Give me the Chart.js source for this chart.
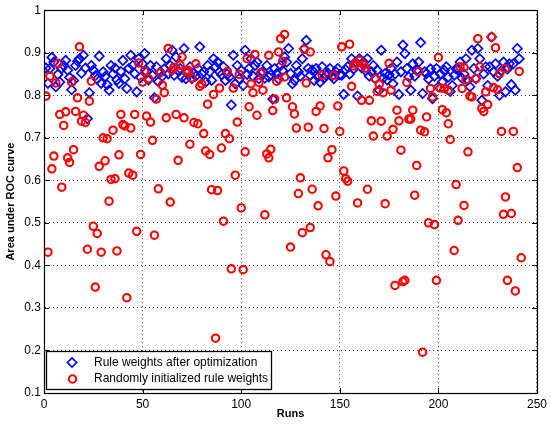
<!DOCTYPE html>
<html>
<head>
<meta charset="utf-8">
<script src="https://cdn.jsdelivr.net/npm/chart.js@4/dist/chart.umd.min.js"></script>
<style>
  html, body { margin: 0; padding: 0; background: #fff; }
  canvas { display: block; }
</style>
</head>
<body>
<canvas id="auc" width="551" height="425"></canvas>
<script>
// Area under the ROC curve for each run: rule weights after optimization (one per run)
const optimizedAuc = [
  0.864,0.828,0.863,0.889,0.878,0.820,0.849,0.831,0.863,0.870,
  0.882,0.859,0.842,0.813,0.835,0.870,0.880,0.886,0.852,0.894,
  0.864,0.745,0.806,0.870,0.859,0.846,0.838,0.892,0.828,0.855,
  0.844,0.825,0.812,0.870,0.850,0.864,0.836,0.828,0.856,0.882,
  0.839,0.816,0.863,0.894,0.870,0.851,0.808,0.886,0.842,0.874,
  0.898,0.855,0.836,0.870,0.847,0.794,0.867,0.832,0.855,0.845,
  0.862,0.886,0.850,0.870,0.906,0.847,0.890,0.858,0.863,0.842,
  0.910,0.839,0.855,0.867,0.839,0.852,0.845,0.863,0.914,0.850,
  0.855,0.831,0.870,0.855,0.835,0.886,0.867,0.878,0.855,0.848,
  0.867,0.835,0.850,0.843,0.777,0.894,0.827,0.870,0.839,0.858,
  0.823,0.906,0.849,0.863,0.886,0.845,0.870,0.878,0.839,0.852,
  0.855,0.840,0.870,0.843,0.848,0.791,0.863,0.851,0.838,0.870,
  0.858,0.890,0.878,0.910,0.851,0.827,0.835,0.870,0.855,0.845,
  0.886,0.910,0.929,0.863,0.847,0.859,0.835,0.863,0.843,0.831,
  0.867,0.840,0.847,0.852,0.863,0.845,0.839,0.855,0.863,0.848,
  0.847,0.802,0.860,0.867,0.850,0.886,0.862,0.878,0.798,0.886,
  0.865,0.878,0.858,0.886,0.845,0.855,0.870,0.839,0.859,0.812,
  0.906,0.840,0.851,0.836,0.848,0.863,0.827,0.850,0.878,0.802,
  0.855,0.918,0.898,0.863,0.843,0.812,0.874,0.845,0.858,0.878,
  0.924,0.804,0.855,0.851,0.838,0.862,0.792,0.845,0.863,0.820,
  0.850,0.831,0.858,0.867,0.843,0.809,0.823,0.847,0.862,0.863,
  0.878,0.840,0.850,0.886,0.836,0.820,0.906,0.863,0.839,0.910,
  0.886,0.788,0.850,0.867,0.823,0.867,0.937,0.855,0.874,0.845,
  0.800,0.858,0.878,0.808,0.862,0.874,0.825,0.874,0.812,0.910,
  0.886
];

// Randomly initialized rule weights: run number and AUC
const randomRuns = [
  1,2,3,4,5,6,7,8,9,10,11,12,13,14,15,16,17,18,19,20,
  21,22,23,24,25,26,27,28,29,30,31,32,33,34,35,36,37,38,39,40,
  41,42,43,44,45,46,47,48,49,50,51,52,53,54,55,56,57,58,59,60,
  61,62,63,64,65,66,67,68,69,70,71,72,73,74,75,76,77,78,79,80,
  81,82,83,84,85,86,87,88,89,90,91,92,93,94,95,96,97,98,99,100,
  101,102,103,104,105,106,107,108,109,110,111,112,113,114,114,115,116,117,118,119,
  120,121,122,122,123,125,126,127,128,129,130,131,132,133,134,135,135,136,138,139,
  140,141,142,143,144,145,146,147,148,149,150,151,152,153,154,155,156,157,158,159,
  160,161,162,163,164,165,166,167,168,169,170,171,172,173,174,175,176,177,178,179,
  180,181,182,183,184,185,186,187,188,189,190,191,192,193,194,195,196,197,198,199,
  200,201,202,203,204,205,205,206,208,209,210,211,212,213,213,214,215,216,217,219,
  220,221,222,223,224,225,227,228,229,230,231,232,233,234,234,235,237,238,239,240,
  241,242
];
const randomAuc = [
  0.798,0.431,0.845,0.627,0.657,0.829,0.875,0.755,0.584,0.729,0.761,0.653,0.642,0.831,0.672,0.762,0.794,0.914,0.739,0.753,
  0.736,0.438,0.786,0.833,0.492,0.349,0.475,0.633,0.431,0.700,0.646,0.698,0.551,0.602,0.718,0.604,0.434,0.660,0.755,0.731,
  0.728,0.324,0.617,0.723,0.612,0.755,0.480,0.876,0.661,0.831,0.857,0.751,0.839,0.737,0.694,0.471,0.791,0.580,0.853,0.824,
  0.806,0.747,0.910,0.549,0.859,0.866,0.755,0.647,0.871,0.890,0.747,0.856,0.859,0.685,0.841,0.736,0.874,0.733,0.821,0.827,
  0.710,0.669,0.779,0.661,0.578,0.802,0.229,0.576,0.817,0.676,0.504,0.710,0.856,0.698,0.392,0.817,0.612,0.737,0.849,0.535,
  0.390,0.667,0.886,0.773,0.827,0.806,0.896,0.753,0.830,0.853,0.812,0.519,0.662,0.894,0.653,0.673,0.764,0.791,0.833,0.902,
  0.933,0.880,0.843,0.943,0.794,0.443,0.773,0.756,0.723,0.569,0.606,0.477,0.908,0.829,0.725,0.902,0.489,0.579,0.762,0.540,
  0.775,0.847,0.722,0.425,0.653,0.409,0.672,0.847,0.563,0.775,0.715,0.914,0.622,0.604,0.598,0.920,0.821,0.869,0.875,0.547,
  0.882,0.788,0.872,0.864,0.579,0.788,0.740,0.704,0.839,0.809,0.826,0.739,0.806,0.545,0.704,0.875,0.812,0.720,0.353,0.765,
  0.740,0.671,0.362,0.365,0.830,0.744,0.744,0.765,0.565,0.635,0.856,0.718,0.196,0.714,0.749,0.500,0.816,0.796,0.496,0.365,
  0.889,0.817,0.766,0.816,0.759,0.812,0.733,0.696,0.435,0.590,0.506,0.867,0.816,0.541,0.865,0.836,0.667,0.798,0.796,0.839,
  0.933,0.867,0.769,0.762,0.808,0.778,0.937,0.818,0.912,0.813,0.851,0.715,0.520,0.863,0.561,0.365,0.522,0.715,0.340,0.630,
  0.856,0.418
];

const xTicks = [0, 50, 100, 150, 200, 250];
const yTicks = [0.1, 0.2, 0.3, 0.4, 0.5, 0.6, 0.7, 0.8, 0.9, 1];
const seriesNames = ['Rule weights after optimization', 'Randomly initialized rule weights'];

const FONT = "'Liberation Sans', Arial, Helvetica, sans-serif";
const BLUE = '#0000ff';
const RED = '#ff0000';

const blueStyle = { pointStyle: 'rectRot', radius: 4.6, borderWidth: 1.7 };
const redStyle = { pointStyle: 'circle', radius: 3.7, borderWidth: 2.1 };

const optimizedPoints = optimizedAuc.map((v, i) => ({ x: i + 1, y: v }));
const randomPoints = randomRuns.map((r, i) => ({ x: r, y: randomAuc[i] }));

function drawMarker(ctx, style, color, x, y) {
  ctx.save();
  ctx.strokeStyle = color;
  ctx.fillStyle = 'rgba(0,0,0,0)';
  ctx.lineWidth = style.borderWidth;
  Chart.helpers.drawPoint(ctx, { pointStyle: style.pointStyle, radius: style.radius, rotation: 0, borderWidth: style.borderWidth }, x, y);
  ctx.restore();
}

// White page, closed axes box, inward tick marks and the boxed legend
const figurePlugin = {
  id: 'figure',
  beforeDraw(chart) {
    const ctx = chart.ctx;
    ctx.save();
    ctx.fillStyle = '#fff';
    ctx.fillRect(0, 0, chart.width, chart.height);
    ctx.restore();
  },
  afterDraw(chart) {
    const { ctx, chartArea: a, scales } = chart;
    ctx.save();
    ctx.strokeStyle = '#000';
    ctx.lineWidth = 1;
    ctx.setLineDash([]);
    ctx.beginPath();
    const tl = 5;
    yTicks.forEach(v => {
      const y = Math.round(scales.y.getPixelForValue(v)) + 0.5;
      ctx.moveTo(a.left, y); ctx.lineTo(a.left + tl, y);
      ctx.moveTo(a.right, y); ctx.lineTo(a.right - tl, y);
    });
    xTicks.forEach(v => {
      const x = Math.round(scales.x.getPixelForValue(v)) + 0.5;
      ctx.moveTo(x, a.bottom); ctx.lineTo(x, a.bottom - tl);
      ctx.moveTo(x, a.top); ctx.lineTo(x, a.top + tl);
    });
    ctx.stroke();
    ctx.lineWidth = 1.2;
    ctx.strokeRect(Math.round(a.left) + 0.5, Math.round(a.top) + 0.5,
                   Math.round(a.right - a.left), Math.round(a.bottom - a.top));

    // legend
    const lx = a.left + 2, ly = 351, lw = 225, lh = 38;
    ctx.fillStyle = '#fff';
    ctx.fillRect(lx, ly, lw, lh);
    ctx.lineWidth = 1.3;
    ctx.strokeStyle = '#000';
    ctx.strokeRect(lx + 0.5, ly + 0.5, lw, lh);
    drawMarker(ctx, blueStyle, BLUE, lx + 26, ly + 11.5);
    drawMarker(ctx, redStyle, RED, lx + 26.5, ly + 28);
    ctx.fillStyle = '#000';
    ctx.font = '12px ' + FONT;
    ctx.textBaseline = 'middle';
    ctx.textAlign = 'left';
    ctx.fillText(seriesNames[0], lx + 48, ly + 11.5);
    ctx.fillText(seriesNames[1], lx + 48, ly + 28);
    ctx.restore();
  }
};

const gridStyle = {
  color: 'rgba(0,0,0,0.8)',
  lineWidth: 1,
  drawTicks: false
};
const borderStyle = { display: true, color: '#000', width: 1, dash: [1, 3] };

new Chart(document.getElementById('auc'), {
  type: 'scatter',
  data: {
    datasets: [
      {
        label: seriesNames[0],
        data: optimizedPoints,
        order: 1,
        pointStyle: blueStyle.pointStyle,
        pointRadius: blueStyle.radius,
        pointBorderWidth: blueStyle.borderWidth,
        borderColor: BLUE,
        backgroundColor: 'rgba(0,0,0,0)'
      },
      {
        label: seriesNames[1],
        data: randomPoints,
        order: 0,
        pointStyle: redStyle.pointStyle,
        pointRadius: redStyle.radius,
        pointBorderWidth: redStyle.borderWidth,
        borderColor: RED,
        backgroundColor: 'rgba(0,0,0,0)'
      }
    ]
  },
  options: {
    responsive: false,
    animation: false,
    events: [],
    layout: { padding: { top: 10, right: 10, left: 0, bottom: 0 } },
    plugins: {
      legend: { display: false },
      tooltip: { enabled: false }
    },
    scales: {
      x: {
        type: 'linear',
        min: 0,
        max: 250,
        afterBuildTicks(scale) { scale.ticks = xTicks.map(v => ({ value: v })); },
        afterFit(scale) { scale.height = 32; },
        grid: Object.assign({}, gridStyle),
        border: Object.assign({}, borderStyle),
        ticks: {
          color: '#000',
          font: { family: FONT, size: 12 },
          padding: 4,
          maxRotation: 0,
          minRotation: 0,
          callback: v => String(v)
        },
        title: {
          display: true,
          text: 'Runs',
          color: '#000',
          font: { family: FONT, size: 11, weight: 'bold' },
          padding: { top: 0, bottom: 4 }
        }
      },
      y: {
        type: 'linear',
        min: 0.1,
        max: 1,
        afterBuildTicks(scale) { scale.ticks = yTicks.map(v => ({ value: v })); },
        afterFit(scale) { scale.width = 44; },
        grid: Object.assign({}, gridStyle),
        border: Object.assign({}, borderStyle),
        ticks: {
          color: '#000',
          font: { family: FONT, size: 12 },
          padding: 3,
          callback: v => String(Number(v.toFixed(1)))
        },
        title: {
          display: true,
          text: 'Area under ROC curve',
          color: '#000',
          font: { family: FONT, size: 11, weight: 'bold' },
          padding: { top: 4, bottom: 0 }
        }
      }
    }
  },
  plugins: [figurePlugin]
});
</script>
</body>
</html>
